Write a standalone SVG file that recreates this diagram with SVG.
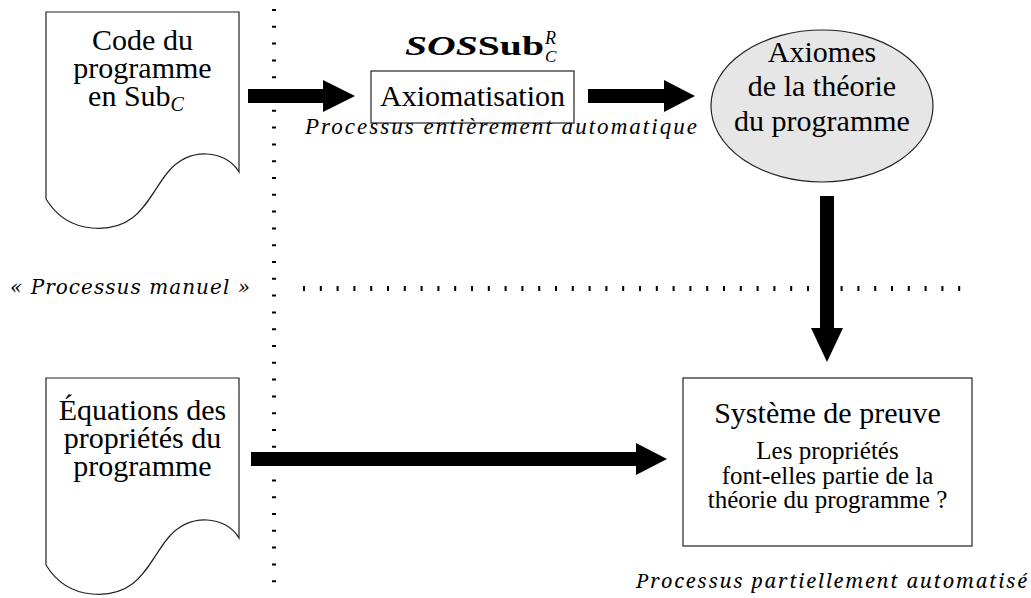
<svg xmlns="http://www.w3.org/2000/svg" width="1031" height="598" viewBox="0 0 1031 598">
<rect width="1031" height="598" fill="#fff"/>
<g id="separators">
<line x1="274" y1="9" x2="274" y2="584" stroke="#000" stroke-width="4" stroke-dasharray="2 14.8"/>
<line x1="303" y1="288.5" x2="961" y2="288.5" stroke="#000" stroke-width="5" stroke-dasharray="2 14.8"/>
</g>
<g id="doc-code">
<path d="M46,12 H239 V172 C226,150 190,146 168,172 C148,196 140,232 92,228 C68,226 54,212 46,199 Z" fill="#fff" stroke="#222" stroke-width="1.2"/>
<text font-family="Times New Roman" font-size="30" text-anchor="middle" x="142.5" y="50">Code du</text>
<text font-family="Times New Roman" font-size="30" text-anchor="middle" x="142.5" y="78">programme</text>
<text font-family="Times New Roman" font-size="30" text-anchor="middle" x="136" y="106">en Sub<tspan font-style="italic" font-size="20" dy="5">C</tspan></text>
</g>
<g id="doc-equations">
<path d="M46,378 H239 V538 C226,516 190,512 168,538 C148,562 140,598 92,594 C68,592 54,578 46,565 Z" fill="#fff" stroke="#222" stroke-width="1.2"/>
<text font-family="Tinos" font-size="30" text-anchor="middle" x="142.5" y="420">Équations des</text>
<text font-family="Tinos" font-size="30" text-anchor="middle" x="142.5" y="448">propriétés du</text>
<text font-family="Tinos" font-size="30" text-anchor="middle" x="142.5" y="476">programme</text>
</g>
<g id="axiomatisation">
<text font-family="serif" x="405" y="55" font-size="28" font-weight="bold" textLength="139" lengthAdjust="spacingAndGlyphs"><tspan font-style="italic">SOS</tspan>Sub</text>
<text font-family="serif" x="545" y="44" font-size="18" font-style="italic">R</text>
<text font-family="serif" x="545" y="62" font-size="17" font-style="italic">C</text>
<rect x="371" y="71" width="203" height="52" fill="#fff" stroke="#222" stroke-width="1.2"/>
<text font-family="serif" font-size="30" text-anchor="middle" x="472.5" y="106">Axiomatisation</text>
<text font-family="serif" font-size="23" font-style="italic" x="305" y="134" textLength="392" lengthAdjust="spacing">Processus entièrement automatique</text>
</g>
<g id="axiomes">
<ellipse cx="822" cy="106" rx="111" ry="76" fill="#e6e6e6" stroke="#222" stroke-width="1.2"/>
<text font-family="Georgia" font-size="30" text-anchor="middle" x="822" y="62">Axiomes</text>
<text font-family="Georgia" font-size="30" text-anchor="middle" x="822" y="96">de la théorie</text>
<text font-family="Georgia" font-size="30" text-anchor="middle" x="822" y="131">du programme</text>
</g>
<g id="manuel">
<text font-family="DejaVu Serif" font-size="20" font-style="italic" x="10" y="294" textLength="240" lengthAdjust="spacing">« Processus manuel »</text>
</g>
<g id="preuve">
<rect x="683" y="378" width="289" height="168" fill="#fff" stroke="#222" stroke-width="1.2"/>
<text font-family="Liberation Serif" font-size="30" text-anchor="middle" x="827.5" y="423">Système de preuve</text>
<text font-family="Liberation Serif" font-size="25" text-anchor="middle" x="827.5" y="459">Les propriétés</text>
<text font-family="Liberation Serif" font-size="25" text-anchor="middle" x="827.5" y="484">font-elles partie de la</text>
<text font-family="Liberation Serif" font-size="25" text-anchor="middle" x="827.5" y="508">théorie du programme ?</text>
<text font-family="Noto Serif" font-size="20" font-style="italic" x="636" y="588" textLength="391" lengthAdjust="spacing">Processus partiellement automatisé</text>
</g>
<g id="connectors" fill="#000">
<path d="M248,89 H323 V80 L355,96 L323,112 V103 H248 Z"/>
<path d="M588,89 H664 V80 L695,96 L664,112 V103 H588 Z"/>
<path d="M820,196 H834 V328 H843 L827,362 L811,328 H820 Z"/>
<path d="M251,452 H636 V443 L667,459 L636,475 V466 H251 Z"/>
</g>
</svg>
